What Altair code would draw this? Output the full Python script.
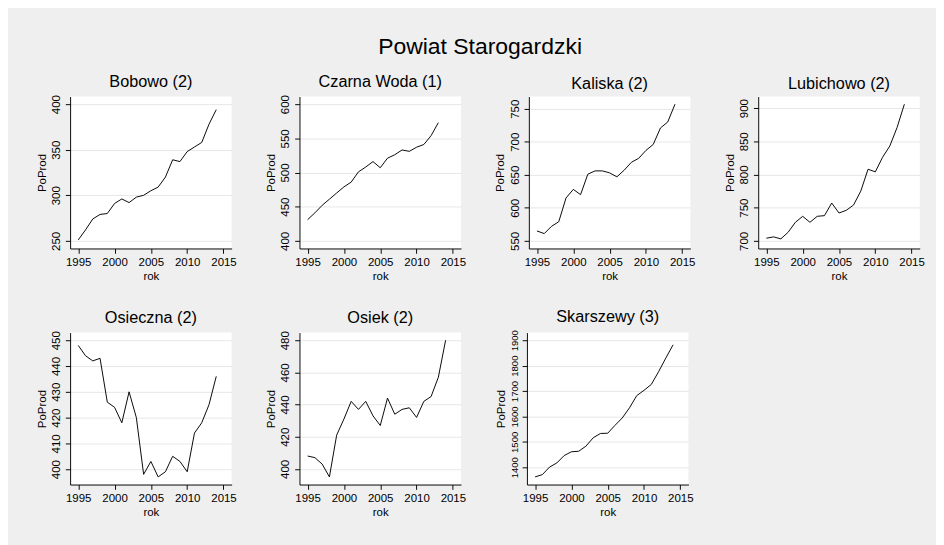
import altair as alt
import pandas as pd

YEARS = [1995, 1996, 1997, 1998, 1999, 2000, 2001, 2002, 2003, 2004,
         2005, 2006, 2007, 2008, 2009, 2010, 2011, 2012, 2013, 2014]
X_TICKS = [1995, 2000, 2005, 2010, 2015]

bobowo = [251, 262, 274, 279, 280, 291, 296, 292, 298, 300,
          305, 309, 320, 339, 337, 348, 353, 358, 378, 394]
czarna_woda = [431, 441, 452, 461, 470, 479, 486, 501, 508, 516,
               507, 521, 526, 533, 531, 537, 541, 554, 573]
kaliska = [565, 561, 572, 579, 615, 628, 620, 651, 656, 656,
           653, 647, 657, 669, 675, 687, 696, 721, 730, 757]
lubichowo = [704, 706, 703, 713, 728, 737, 728, 737, 738, 757,
             742, 746, 754, 775, 808, 804, 826, 843, 871, 906]
osieczna = [448, 444, 442, 443, 426, 424, 418, 430, 420, 398,
            403, 397, 399, 405, 403, 399, 414, 418, 425, 436]
osiek = [408, 407, 403, 395, 421, 431, 442, 437, 442, 433,
         427, 444, 434, 437, 438, 432, 442, 445, 457, 480]
skarszewy = [1362, 1371, 1401, 1417, 1446, 1461, 1463, 1483, 1516, 1533,
             1534, 1565, 1594, 1634, 1682, 1703, 1726, 1776, 1830, 1882]

PANELS = [
    ("Bobowo (2)", YEARS, bobowo, [250, 300, 350, 400], 12),
    ("Czarna Woda (1)", YEARS[:19], czarna_woda, [400, 450, 500, 550, 600], 12),
    ("Kaliska (2)", YEARS, kaliska, [550, 600, 650, 700, 750], 12),
    ("Lubichowo (2)", YEARS, lubichowo, [700, 750, 800, 850, 900], 12),
    ("Osieczna (2)", YEARS, osieczna, [400, 410, 420, 430, 440, 450], 12),
    ("Osiek (2)", YEARS, osiek, [400, 420, 440, 460, 480], 12),
    ("Skarszewy (3)", YEARS, skarszewy, [1400, 1500, 1600, 1700, 1800, 1900], 10),
]

W, H = 169, 159
FONT = "Liberation Sans"


def panel(name, years, vals, ticks, yfont):
    df = pd.DataFrame({"rok": years, "PoProd": vals})
    lo = min(min(vals), ticks[0])
    hi = max(max(vals), ticks[-1])
    pad = (hi - lo) * 8 / 143
    xpad = 20 * 8.5 / 152
    return (
        alt.Chart(df, title=alt.TitleParams(name, fontSize=17, frame="group",
                                            anchor="middle", offset=4))
        .mark_line(color="black", strokeWidth=1)
        .encode(
            x=alt.X("rok:Q",
                    scale=alt.Scale(domain=[1995 - xpad, 2015 + xpad], nice=False, zero=False),
                    axis=alt.Axis(values=X_TICKS, format="d", grid=False, title="rok",
                                  labelFlush=False, labelOverlap=False,
                                  labelPadding=4, titlePadding=3)),
            y=alt.Y("PoProd:Q",
                    scale=alt.Scale(domain=[lo - pad, hi + pad], nice=False, zero=False),
                    axis=alt.Axis(values=ticks, format="d", grid=True, title="PoProd",
                                  labelAngle=270, labelAlign="center", labelBaseline="bottom",
                                  labelFontSize=yfont, labelFlush=False, labelOverlap=False,
                                  labelPadding=3, titlePadding=2)),
        )
        .properties(width=W, height=H)
    )


charts = [panel(*p) for p in PANELS]

row1 = alt.hconcat(*charts[:4], spacing=30)
row2 = alt.hconcat(*charts[4:], spacing=30)

chart = (
    alt.vconcat(row1, row2, spacing=28)
    .properties(
        title=alt.TitleParams("Powiat Starogardzki", fontSize=24, anchor="middle", offset=15),
        padding={"left": 28, "top": 16, "right": 12, "bottom": 26},
        background="#efefef",
    )
    .configure_view(fill="white", stroke=None)
    .configure_axis(
        domainColor="black", tickColor="black", tickSize=5, tickWidth=1, domainWidth=1,
        labelFont=FONT, labelFontSize=12, labelColor="black",
        titleFont=FONT, titleFontSize=12, titleFontWeight="normal", titleColor="black",
        gridColor="#e6e6e6", gridWidth=1,
    )
    .configure_title(font=FONT, fontWeight="normal", color="black")
)

chart.save("out.html", embed_options={"renderer": "svg", "actions": False})
